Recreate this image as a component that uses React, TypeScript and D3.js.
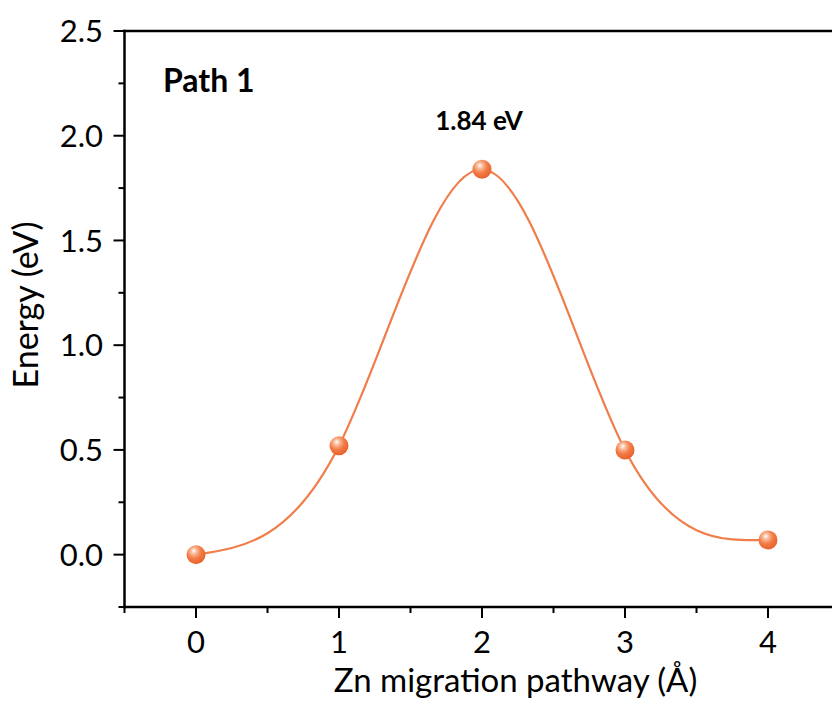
import React from "react";
import * as d3 from "d3";

const pathwaySteps = [0, 1, 2, 3, 4];
const energies = [0, 0.52, 1.84, 0.5, 0.07];
const xTicks = [0, 1, 2, 3, 4];
const xMinorTicks = [-0.5, 0.5, 1.5, 2.5, 3.5, 4.5];
const yTicks = [0, 0.5, 1.0, 1.5, 2.0, 2.5];
const yMinorTicks = [-0.25, 0.25, 0.75, 1.25, 1.75, 2.25];
const barrierLabel = "1.84 eV";
const panelLabel = "Path 1";

const W = 832;
const H = 709;
const FONT = "Lato, 'Open Sans', sans-serif";
const ORANGE = "#F07D4A";

export default function App() {
  const x = d3.scaleLinear().domain([-0.5, 4.5]).range([124.5, 839.5]);
  const y = d3.scaleLinear().domain([-0.25, 2.5]).range([607, 31]);
  const pts = pathwaySteps.map((s, i) => [s, energies[i]] as [number, number]);
  const line = d3
    .line<[number, number]>()
    .x((d) => x(d[0]))
    .y((d) => y(d[1]))
    .curve(d3.curveNatural);

  const left = x(-0.5);
  const bottom = y(-0.25);
  const top = y(2.5);
  const axisW = 2.5;

  return (
    <svg
      width={W}
      height={H}
      style={{ position: "absolute", left: 0, top: 0, background: "#fff" }}
      fontFamily={FONT}
    >
      <defs>
        <radialGradient id="ball" cx="0.4" cy="0.35" r="0.65" fx="0.38" fy="0.3">
          <stop offset="0" stopColor="#FFFFFF" />
          <stop offset="0.25" stopColor="#F9B896" />
          <stop offset="0.6" stopColor="#F27A44" />
          <stop offset="1" stopColor="#E8632C" />
        </radialGradient>
      </defs>
      <rect x={0} y={0} width={W} height={H} fill="#fff" />

      {/* curve */}
      <path d={line(pts) || ""} fill="none" stroke={ORANGE} strokeWidth={2.2} />
      {pts.map((p, i) => (
        <circle key={i} cx={x(p[0])} cy={y(p[1])} r={9.5} fill="url(#ball)" />
      ))}

      {/* frame */}
      <line x1={left} x2={left} y1={top - axisW / 2} y2={bottom + axisW / 2} stroke="#000" strokeWidth={axisW} />
      <line x1={left - axisW / 2} x2={W} y1={bottom} y2={bottom} stroke="#000" strokeWidth={axisW} />
      <line x1={left - axisW / 2} x2={W} y1={top} y2={top} stroke="#000" strokeWidth={axisW} />

      {/* y ticks */}
      {yTicks.map((t) => (
        <g key={"y" + t}>
          <line x1={left - 11} x2={left} y1={y(t)} y2={y(t)} stroke="#000" strokeWidth={2} />
          <text x={103} y={y(t)} dy="0.36em" textAnchor="end" fontSize={31}>
            {t.toFixed(1)}
          </text>
        </g>
      ))}
      {yMinorTicks.map((t) => (
        <line key={"ym" + t} x1={left - 6} x2={left} y1={y(t)} y2={y(t)} stroke="#000" strokeWidth={2} />
      ))}

      {/* x ticks */}
      {xTicks.map((t) => (
        <g key={"x" + t}>
          <line x1={x(t)} x2={x(t)} y1={bottom} y2={bottom + 11} stroke="#000" strokeWidth={2} />
          <text x={x(t)} y={653} textAnchor="middle" fontSize={31}>
            {t}
          </text>
        </g>
      ))}
      {xMinorTicks.map((t) => (
        <line key={"xm" + t} x1={x(t)} x2={x(t)} y1={bottom} y2={bottom + 6} stroke="#000" strokeWidth={2} />
      ))}

      {/* axis titles */}
      <text x={(333 + 698) / 2} y={692} textAnchor="middle" fontSize={33}>
        Zn migration pathway (Å)
      </text>
      <text
        transform={`translate(38, 305) rotate(-90)`}
        textAnchor="middle"
        fontSize={34}
      >
        Energy (eV)
      </text>

      {/* annotations */}
      <text x={163} y={92} fontSize={32} fontWeight="bold">
        {panelLabel}
      </text>
      <text x={479} y={130} textAnchor="middle" fontSize={26} fontWeight="bold">
        {barrierLabel}
      </text>
    </svg>
  );
}
